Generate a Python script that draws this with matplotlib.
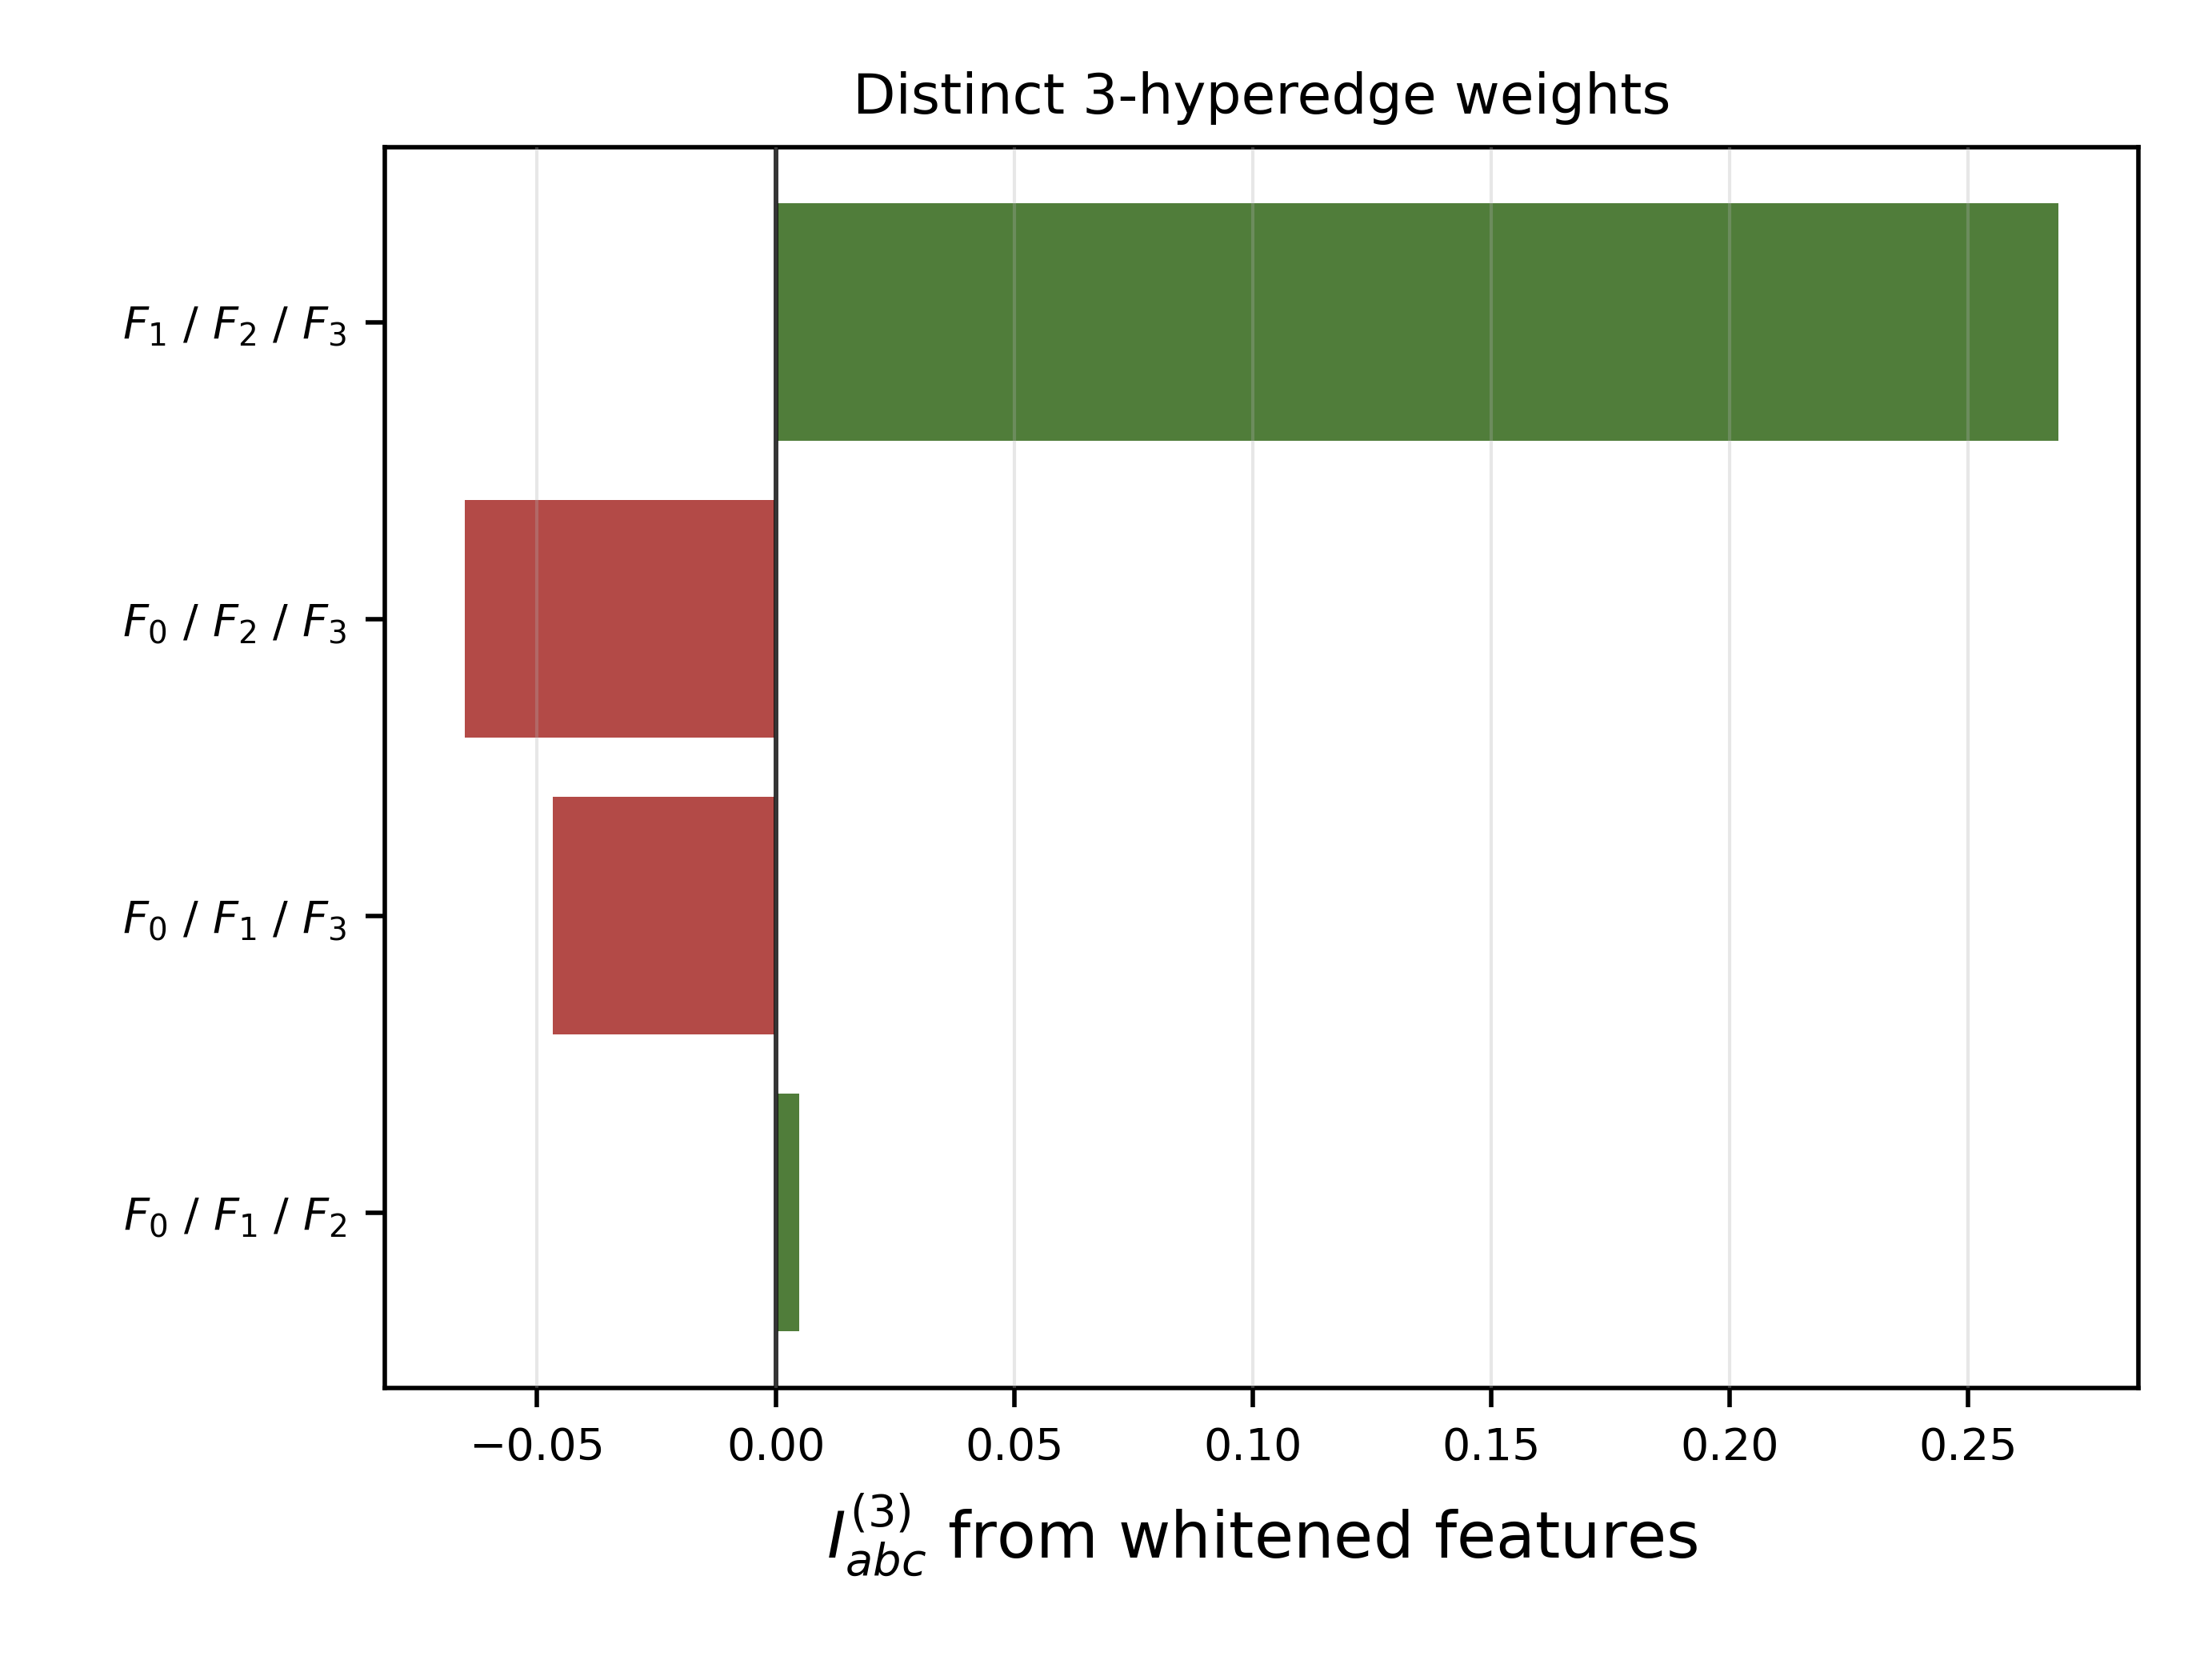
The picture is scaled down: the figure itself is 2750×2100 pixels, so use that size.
import matplotlib
matplotlib.use('Agg')
import matplotlib.pyplot as plt

labels = [r'$F_0$ / $F_1$ / $F_2$', r'$F_0$ / $F_1$ / $F_3$',
          r'$F_0$ / $F_2$ / $F_3$', r'$F_1$ / $F_2$ / $F_3$']
values = [0.005, -0.0467, -0.0652, 0.269]

green = '#507d3a'
red = '#b34a47'
colors = [green if v >= 0 else red for v in values]

fig, ax = plt.subplots(figsize=(5.5, 4.2), dpi=500)
fig.subplots_adjust(left=0.175, right=0.972, top=0.9125, bottom=0.174)

ax.barh(range(len(values)), values, color=colors, height=0.8)
ax.axvline(0, color='black', linewidth=0.8)
ax.set_yticks(range(len(values)))
ax.set_yticklabels(labels, fontsize=8)
ax.tick_params(axis='x', labelsize=8)
ax.grid(axis='x', alpha=0.3, linewidth=0.6)
ax.set_axisbelow(False)
ax.set_xlabel(r'$I^{(3)}_{abc}$ from whitened features', fontsize=11.5)
ax.set_title('Distinct 3-hyperedge weights', fontsize=10)

fig.savefig('out.png', dpi=500)
